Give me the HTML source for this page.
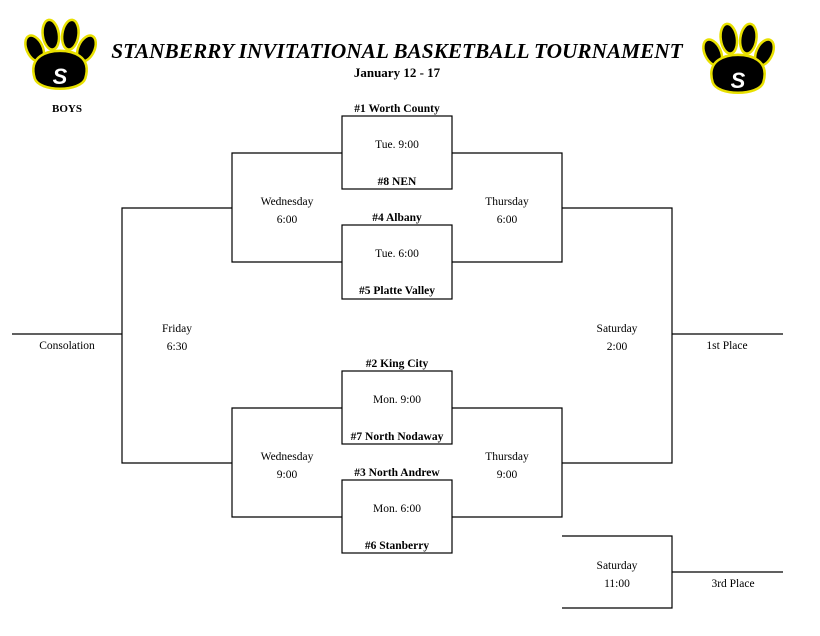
<!DOCTYPE html>
<html><head><style>
body{margin:0;width:820px;height:634px;background:#fff;position:relative;overflow:hidden;font-family:"Liberation Serif",serif;color:#000}
.t{position:absolute;white-space:nowrap;transform:translateX(-50%);font-size:11.5px}
.b{font-weight:bold}
svg{position:absolute;left:0;top:0}
#w{position:absolute;left:0;top:2px;width:820px;height:634px}
</style></head><body>
<svg width="820" height="634">
<g stroke="#000" stroke-width="1.2" fill="none">
<rect x="342" y="116" width="110" height="73"/>
<rect x="342" y="225" width="110" height="74"/>
<rect x="342" y="371" width="110" height="73"/>
<rect x="342" y="480" width="110" height="73"/>
<path d="M342 153H232V262H342M452 153H562V262H452"/>
<path d="M342 408H232V517H342M452 408H562V517H452"/>
<path d="M232 208H122V463H232M562 208H672V463H562"/>
<path d="M12 334H122M672 334H783"/>
<path d="M562 536H672V608H562M672 572H783"/>
</g>
<defs>
<g id="paw">
<ellipse cx="-22" cy="-10" rx="7" ry="12" transform="rotate(-25 -22 -10)"/>
<ellipse cx="-8" cy="-22" rx="7" ry="13" transform="rotate(-8 -8 -22)"/>
<ellipse cx="9" cy="-22" rx="7" ry="13" transform="rotate(8 9 -22)"/>
<ellipse cx="23" cy="-10" rx="7" ry="12" transform="rotate(25 23 -10)"/>
<path d="M-22 16 C-28 -4 -10 -8 0 -8 C10 -8 28 -4 22 16 C18 28 -18 28 -22 16Z"/>
</g>
</defs>
<g transform="translate(60,60) scale(1.15)" fill="#000" stroke="#e8e000" stroke-width="2.2"><use href="#paw"/></g>
<g transform="translate(738,64) scale(1.15)" fill="#000" stroke="#e8e000" stroke-width="2.2"><use href="#paw"/></g>
<text x="60" y="84" fill="#fff" font-family="Liberation Sans" font-weight="bold" font-style="italic" font-size="22" text-anchor="middle">S</text>
<text x="738" y="88" fill="#fff" font-family="Liberation Sans" font-weight="bold" font-style="italic" font-size="22" text-anchor="middle">S</text>
</svg>
<div id="w">
<div class="t b" style="left:397px;top:37px;font-size:21.3px;font-style:italic">STANBERRY INVITATIONAL BASKETBALL TOURNAMENT</div>
<div class="t b" style="left:397px;top:63px;font-size:13px">January 12 - 17</div>
<div class="t b" style="left:67px;top:101px;font-size:11px">BOYS</div>
<div class="t b" style="left:397px;top:101px">#1 Worth County</div>
<div class="t" style="left:397px;top:137px">Tue. 9:00</div>
<div class="t b" style="left:397px;top:174px">#8 NEN</div>
<div class="t b" style="left:397px;top:210px">#4 Albany</div>
<div class="t" style="left:397px;top:246px">Tue. 6:00</div>
<div class="t b" style="left:397px;top:283px">#5 Platte Valley</div>
<div class="t b" style="left:397px;top:356px">#2 King City</div>
<div class="t" style="left:397px;top:392px">Mon. 9:00</div>
<div class="t b" style="left:397px;top:429px">#7 North Nodaway</div>
<div class="t b" style="left:397px;top:465px">#3 North Andrew</div>
<div class="t" style="left:397px;top:501px">Mon. 6:00</div>
<div class="t b" style="left:397px;top:538px">#6 Stanberry</div>
<div class="t" style="left:287px;top:194px">Wednesday</div>
<div class="t" style="left:287px;top:212px">6:00</div>
<div class="t" style="left:507px;top:194px">Thursday</div>
<div class="t" style="left:507px;top:212px">6:00</div>
<div class="t" style="left:287px;top:449px">Wednesday</div>
<div class="t" style="left:287px;top:467px">9:00</div>
<div class="t" style="left:507px;top:449px">Thursday</div>
<div class="t" style="left:507px;top:467px">9:00</div>
<div class="t" style="left:177px;top:321px">Friday</div>
<div class="t" style="left:177px;top:339px">6:30</div>
<div class="t" style="left:617px;top:321px">Saturday</div>
<div class="t" style="left:617px;top:339px">2:00</div>
<div class="t" style="left:67px;top:338px">Consolation</div>
<div class="t" style="left:727px;top:338px">1st Place</div>
<div class="t" style="left:617px;top:558px">Saturday</div>
<div class="t" style="left:617px;top:576px">11:00</div>
<div class="t" style="left:733px;top:576px">3rd Place</div>
</div>
</body></html>
